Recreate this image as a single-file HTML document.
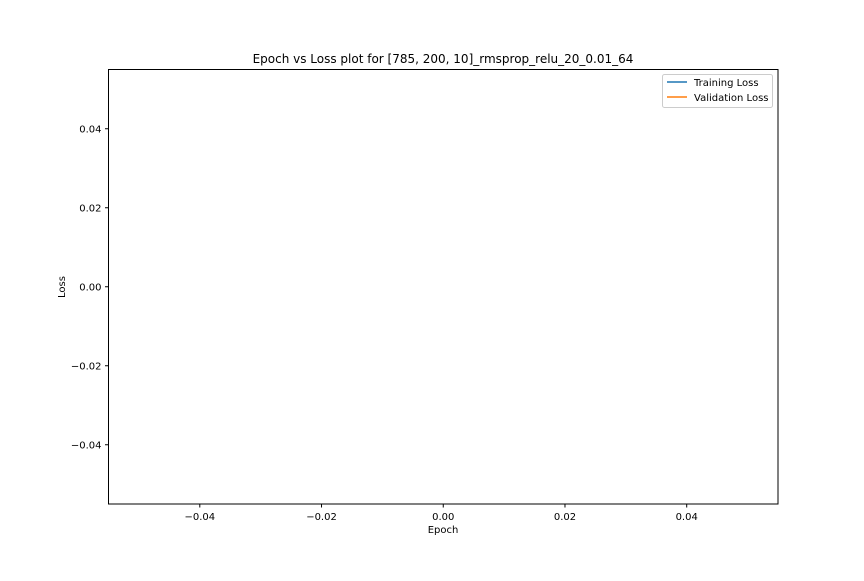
<!DOCTYPE html>
<html><head><meta charset="utf-8"><style>
html,body{margin:0;padding:0;background:#fff;}
svg text{font-family:"DejaVu Sans","Liberation Sans",sans-serif;fill:#000;}
</style></head><body>
<svg id="chart" width="864" height="576" xmlns="http://www.w3.org/2000/svg">
<rect width="864" height="576" fill="#fff"/>
<text x="443" y="63" font-size="12" text-anchor="middle">Epoch vs Loss plot for [785, 200, 10]_rmsprop_relu_20_0.01_64</text>
<g id="xticks"></g>
<g id="yticks"></g>
<g id="series"></g>
<rect x="108.5" y="69.5" width="669.5" height="434.5" fill="none" stroke="#000" stroke-width="1"/>
<text x="443" y="533" font-size="10" text-anchor="middle">Epoch</text>
<text x="65" y="287" font-size="10" text-anchor="middle" transform="rotate(-90 65 287)">Loss</text>
<g>
<rect x="662.5" y="74.5" width="110" height="33" rx="2" fill="#fff" fill-opacity="0.8" stroke="#ccc"/>
<line x1="667" y1="82" x2="687" y2="82" stroke="#1f77b4" stroke-width="1.5"/>
<text x="694" y="86" font-size="10">Training Loss</text>
<line x1="667" y1="97" x2="687" y2="97" stroke="#ff7f0e" stroke-width="1.5"/>
<text x="694" y="101" font-size="10">Validation Loss</text>
</g>
</svg>
<script>
const epochs = [];
const trainingLoss = [];
const validationLoss = [];
const xTickValues = [-0.04, -0.02, 0.00, 0.02, 0.04];
const yTickValues = [-0.04, -0.02, 0.00, 0.02, 0.04];

const NS = "http://www.w3.org/2000/svg";
const L = 108.5, R = 778, T = 69.5, B = 504;
const xMin = -0.055, xMax = 0.055, yMin = -0.055, yMax = 0.055;
function xs(v){ return L + (v - xMin) / (xMax - xMin) * (R - L); }
function ys(v){ return B - (v - yMin) / (yMax - yMin) * (B - T); }
function fmt(v){ const s = Math.abs(v).toFixed(2); return (v < -1e-12 ? "\u22120" : "0") + s.slice(1); }

const xg = document.getElementById("xticks");
xTickValues.forEach(v => {
  const x = xs(v);
  const ln = document.createElementNS(NS, "line");
  
  
  ln.setAttribute("x1", x); ln.setAttribute("x2", x);
  ln.setAttribute("y1", B); ln.setAttribute("y2", B + 3.5);
  ln.setAttribute("stroke", "#000");
  xg.appendChild(ln);
  const t = document.createElementNS(NS, "text");
  
  
  t.setAttribute("x", x); t.setAttribute("y", B + 16);
  t.setAttribute("font-size", "10"); t.setAttribute("text-anchor", "middle");
  t.textContent = fmt(v);
  xg.appendChild(t);
});
const yg = document.getElementById("yticks");
yTickValues.forEach(v => {
  const y = ys(v);
  const ln = document.createElementNS(NS, "line");
  
  
  ln.setAttribute("x1", L - 3.5); ln.setAttribute("x2", L);
  ln.setAttribute("y1", y); ln.setAttribute("y2", y);
  ln.setAttribute("stroke", "#000");
  yg.appendChild(ln);
  const t = document.createElementNS(NS, "text");
  
  
  t.setAttribute("x", L - 7); t.setAttribute("y", y + 3.5);
  t.setAttribute("font-size", "10"); t.setAttribute("text-anchor", "end");
  t.textContent = fmt(v);
  yg.appendChild(t);
});
const sg = document.getElementById("series");
function drawLine(vals, color, name){
  if (!vals.length) return;
  const pts = vals.map((v, i) => xs(epochs.length ? epochs[i] : i) + "," + ys(v)).join(" ");
  const pl = document.createElementNS(NS, "polyline");
  
  
  pl.setAttribute("points", pts);
  pl.setAttribute("fill", "none");
  pl.setAttribute("stroke", color);
  pl.setAttribute("stroke-width", "1.5");
  sg.appendChild(pl);
}
drawLine(trainingLoss, "#1f77b4", "training-loss-line");
drawLine(validationLoss, "#ff7f0e", "validation-loss-line");
</script>
</body></html>
